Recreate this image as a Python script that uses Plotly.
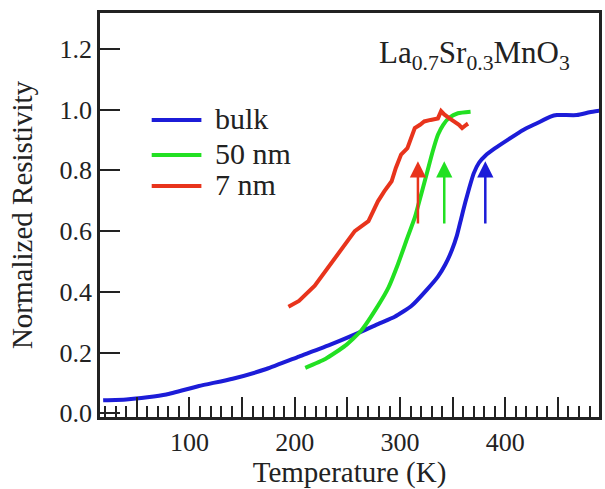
import plotly.graph_objects as go

# bulk
bulk_T = [18, 40, 60, 78, 109, 141, 173, 204, 235, 267, 279, 295, 311, 326, 336, 343, 349, 354, 358, 362, 366, 370, 375, 381, 390, 403, 417, 430, 443, 449, 468, 480, 491]
bulk_R = [0.043, 0.046, 0.053, 0.062, 0.09, 0.114, 0.146, 0.187, 0.228, 0.275, 0.294, 0.318, 0.354, 0.409, 0.45, 0.49, 0.535, 0.585, 0.64, 0.695, 0.745, 0.79, 0.825, 0.848, 0.872, 0.902, 0.933, 0.955, 0.977, 0.982, 0.982, 0.991, 0.997]

# 50 nm
nm50_T = [210, 229, 248, 263, 279, 289, 298, 307, 314, 320, 326, 331, 336, 341, 347, 355, 367]
nm50_R = [0.15, 0.179, 0.223, 0.272, 0.354, 0.414, 0.491, 0.578, 0.644, 0.72, 0.797, 0.862, 0.917, 0.95, 0.974, 0.988, 0.993]

# 7 nm
nm7_T = [194, 204, 219, 232, 245, 257, 270, 279, 285, 292, 296, 301, 307, 311, 314, 319, 323, 329, 336, 339, 342, 347, 352, 356, 359, 363, 364]
nm7_R = [0.351, 0.37, 0.42, 0.48, 0.545, 0.60, 0.633, 0.698, 0.731, 0.764, 0.808, 0.852, 0.873, 0.906, 0.939, 0.95, 0.961, 0.966, 0.971, 0.995, 0.984, 0.971, 0.961, 0.95, 0.939, 0.95, 0.944]

# Tc arrows
arrow_T = [317, 342, 381]
arrow_from, arrow_to = 0.62, 0.83

legend_names = ["bulk", "50 nm", "7 nm"]

x_major = [50, 100, 150, 200, 250, 300, 350, 400, 450]
x_labels = ["", "100", "", "200", "", "300", "", "400", ""]
y_ticks = [0.0, 0.2, 0.4, 0.6, 0.8, 1.0, 1.2]
y_labels = ["0.0", "0.2", "0.4", "0.6", "0.8", "1.0", "1.2"]

FONT = "Liberation Serif, Times New Roman, serif"
BLUE, GREEN, RED = "#1c1cd8", "#22e022", "#e8341c"
colors = [BLUE, GREEN, RED]

fig = go.Figure()
fig.add_trace(go.Scatter(x=bulk_T, y=bulk_R, mode="lines", name=legend_names[0],
                         line=dict(color=BLUE, width=4, shape="spline", smoothing=0.5)))
fig.add_trace(go.Scatter(x=nm50_T, y=nm50_R, mode="lines", name=legend_names[1],
                         line=dict(color=GREEN, width=4, shape="spline", smoothing=0.5)))
fig.add_trace(go.Scatter(x=nm7_T, y=nm7_R, mode="lines", name=legend_names[2],
                         line=dict(color=RED, width=4)))

for t, c in zip(arrow_T, [RED, GREEN, BLUE]):
    fig.add_annotation(x=t, y=arrow_to, ax=t, ay=arrow_from, xref="x", yref="y",
                       axref="x", ayref="y", text="", showarrow=True,
                       arrowhead=2, arrowsize=1.3, arrowwidth=2.5, arrowcolor=c)

# manual legend (line sample + label)
leg_y = [0.735, 0.6485, 0.5718]
for name, c, yy in zip(legend_names, colors, leg_y):
    fig.add_shape(type="line", xref="paper", yref="paper", x0=0.1036, x1=0.2032,
                  y0=yy, y1=yy, line=dict(color=c, width=4))
    fig.add_annotation(x=0.227, y=yy + 0.004, xref="paper", yref="paper", text=name,
                       showarrow=False, xanchor="left", yanchor="middle",
                       font=dict(family=FONT, size=30, color="#222"))

fig.add_annotation(x=0.751, y=0.896, xref="paper", yref="paper",
                   xanchor="center", yanchor="middle",
                   text="La<sub>0.7</sub>Sr<sub>0.3</sub>MnO<sub>3</sub>",
                   showarrow=False, font=dict(family=FONT, size=31, color="#222"))

fig.update_layout(
    width=605, height=489,
    margin=dict(l=100, r=3, t=13, b=72),
    plot_bgcolor="white", paper_bgcolor="white",
    font=dict(family=FONT, size=26, color="#222"),
    showlegend=False,
)
fig.update_xaxes(range=[15, 489], showline=True, linecolor="#222", linewidth=2.5, mirror=True,
                 showgrid=False, zeroline=False,
                 tickmode="array", tickvals=x_major, ticktext=x_labels,
                 ticks="inside", ticklen=20, tickwidth=2, tickcolor="#222",
                 minor=dict(dtick=10, tick0=0, ticks="inside", ticklen=11, tickwidth=2, tickcolor="#222"),
                 title=dict(text="Temperature (K)", font=dict(family=FONT, size=29), standoff=0),
                 tickfont=dict(family=FONT, size=26))
fig.update_yaxes(range=[-0.012, 1.318], showline=True, linecolor="#222", linewidth=2.5, mirror=True,
                 showgrid=False, zeroline=False,
                 tickmode="array", tickvals=y_ticks, ticktext=y_labels,
                 ticks="inside", ticklen=20, tickwidth=2, tickcolor="#222",
                 title=dict(text="Normalized Resistivity", font=dict(family=FONT, size=29), standoff=19),
                 tickfont=dict(family=FONT, size=26))

fig.write_html("out.html")
